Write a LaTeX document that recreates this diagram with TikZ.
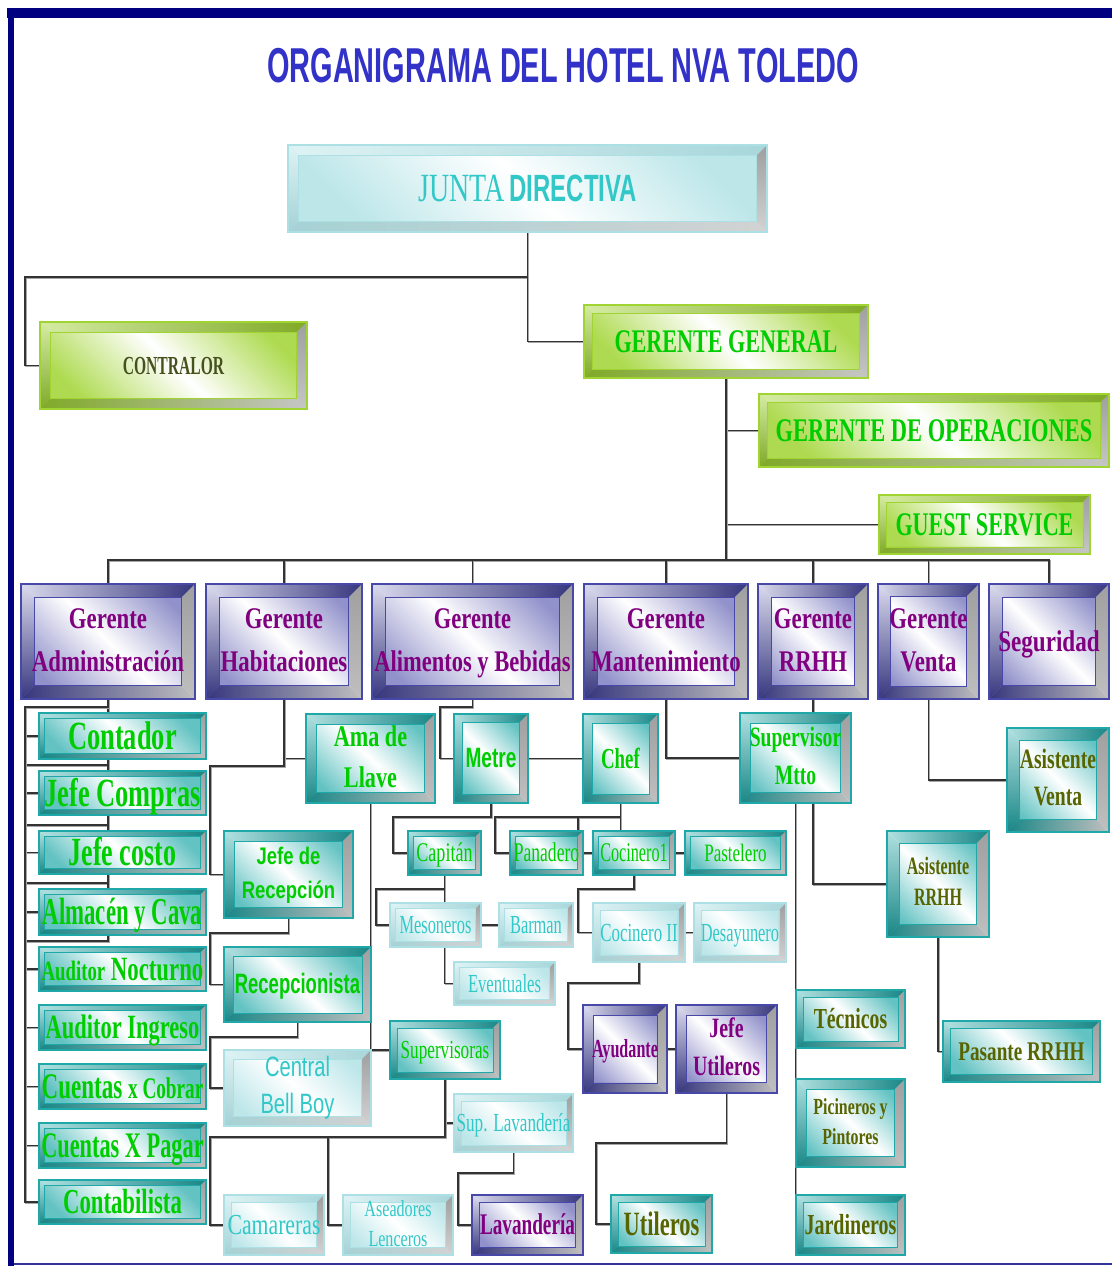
\documentclass[tikz,border=0pt]{standalone}
\usepackage{fontspec}
\setmainfont{Liberation Serif}
\newfontfamily\arialf{Liberation Sans}
\usepackage{graphicx}
\usetikzlibrary{calc}

\definecolor{Navy}{RGB}{0,0,128}
\definecolor{TitleB}{RGB}{50,50,200}
\definecolor{TealE}{RGB}{32,168,168}
\definecolor{PurpE}{RGB}{72,72,168}
\definecolor{LimeE}{RGB}{160,212,50}
\definecolor{PaleE}{RGB}{172,224,228}
\definecolor{GreenT}{RGB}{0,205,0}
\definecolor{OliveT}{RGB}{88,100,0}
\definecolor{ContrT}{RGB}{70,82,30}
\definecolor{PurpT}{RGB}{128,0,128}
\definecolor{CyanT}{RGB}{50,200,200}

% condensed single line, centred on its capitals
\newcommand\sqo[2]{\scalebox{#1}[1]{\raisebox{0pt}[0.66em][0pt]{#2}}}
% condensed centred block of lines
\newcommand\sqm[2]{\scalebox{#1}[1]{\begin{tabular}{@{}c@{}}#2\end{tabular}}}
\newcommand\fz[2]{\fontsize{#1}{#2}\selectfont}

% bevelled frame: light edge, dark top-right, dark bottom-left, grey edge, frame colour
\newcommand\bevelpic[5]{%
  \path let \p1=(path picture bounding box.south west),
            \p2=(path picture bounding box.north east),
            \n1={0.12*min(\x2-\x1,\y2-\y1)} in
    (\x1,\y1) coordinate (bvA) (\x2,\y1) coordinate (bvB)
    (\x2,\y2) coordinate (bvC) (\x1,\y2) coordinate (bvD)
    (\x1+\n1,\y1+\n1) coordinate (bva) (\x2-\n1,\y1+\n1) coordinate (bvb)
    (\x2-\n1,\y2-\n1) coordinate (bvc) (\x1+\n1,\y2-\n1) coordinate (bvd);
  \shade[left color=#1, right color=#2] (bvD) -- (bvC) -- (bvc) -- (bvd) -- cycle;
  \shade[top color=#1, bottom color=#3] (bvA) -- (bvD) -- (bvd) -- (bva) -- cycle;
  \shade[left color=#3, right color=#4] (bvA) -- (bvB) -- (bvb) -- (bva) -- cycle;
  \shade[top color=gray!75, bottom color=#4] (bvB) -- (bvC) -- (bvc) -- (bvb) -- cycle;
  \draw[#5, line width=0.8pt] (bva) rectangle (bvc);
}

\tikzset{
  boxbase/.style={rectangle, inner sep=0pt, outer sep=0pt, line width=1.2pt},
  wh/.style 2 args={minimum width=#1, minimum height=#2},
  face/.style={top color=#1, bottom color=#1, middle color=white, shading angle=-45},
  tealbox/.style={boxbase, draw=TealE, face=TealE!70, text=GreenT,
    path picture={\bevelpic{TealE!35}{TealE!80!black}{TealE!80!black}{gray!50}{TealE}}},
  olivebox/.style={tealbox, text=OliveT},
  purpbox/.style={boxbase, draw=PurpE, face=PurpE!60, text=PurpT,
    path picture={\bevelpic{PurpE!20}{PurpE!75!black}{PurpE!75!black}{gray!50}{PurpE}}},
  limebox/.style={boxbase, draw=LimeE, face=LimeE!85, text=GreenT,
    path picture={\bevelpic{LimeE!45}{LimeE!80!black}{LimeE!80!black}{gray!45}{LimeE}}},
  palebox/.style={boxbase, draw=PaleE, face=PaleE!80, text=CyanT,
    path picture={\bevelpic{PaleE!40}{PaleE!90!gray}{PaleE!85!gray}{gray!35}{PaleE}}},
  mgr/.style={purpbox, font=\bfseries\fz{30}{43}},
  conn/.style={draw=black!80, line width=1.3pt,
    preaction={draw=black!35, line width=1.6pt, transform canvas={shift={(0.9pt,-1.1pt)}}}},
}

\pgfdeclarelayer{paper}
\pgfdeclarelayer{wires}
\pgfsetlayers{paper,wires,main}

\begin{document}
\begin{tikzpicture}[x=1pt,y=-1pt]
\useasboundingbox (0,0) rectangle (1112,1266);
\begin{pgfonlayer}{paper}
  \fill[white] (0,0) rectangle (1112,1266);
\end{pgfonlayer}

% page frame
\fill[Navy] (7,7.5) rectangle (1112,17.5);
\fill[Navy] (7.5,7.5) rectangle (14,1266);
\draw[Navy!80, line width=2pt] (14,1263.5) -- (1112,1263.5);

% title
\node[anchor=base, text=TitleB, font=\arialf\bfseries\fz{49}{55}] (title) at (563,82)
  {\scalebox{.59}[1]{ORGANIGRAMA DEL HOTEL NVA TOLEDO}};

% board and general management
\node[palebox, wh={479}{87}, font=\fz{40}{40}] (junta) at (527.5,188.5)
  {\sqo{.70}{JUNTA}\hspace{5pt}{\arialf\bfseries\fz{38}{38}\sqo{.63}{DIRECTIVA}}};
\node[limebox, wh={267}{87}, text=ContrT, font=\bfseries\fz{26}{26}] (contr) at (173.5,365.5) {\sqo{.6}{CONTRALOR}};
\node[limebox, wh={284}{73}, font=\bfseries\fz{33}{33}] (gg) at (726,341.5) {\sqo{.67}{GERENTE GENERAL}};
\node[limebox, wh={350}{73}, font=\bfseries\fz{33}{33}] (gop) at (934,430.5) {\sqo{.68}{GERENTE DE OPERACIONES}};
\node[limebox, wh={211}{59}, font=\bfseries\fz{33}{33}] (guest) at (984.5,524.5) {\sqo{.67}{GUEST SERVICE}};

% department managers
\node[mgr, wh={174}{115}] (adm) at (108,641.5) {\sqm{.76}{Gerente\\Administración}};
\node[mgr, wh={156}{115}] (hab) at (284,641.5) {\sqm{.76}{Gerente\\Habitaciones}};
\node[mgr, wh={201}{115}] (ayb) at (472.5,641.5) {\sqm{.75}{Gerente\\Alimentos y Bebidas}};
\node[mgr, wh={164}{115}] (mant) at (666,641.5) {\sqm{.76}{Gerente\\Mantenimiento}};
\node[mgr, wh={110}{115}] (rrhh) at (813,641.5) {\sqm{.76}{Gerente\\RRHH}};
\node[mgr, wh={101}{115}] (venta) at (928.5,641.5) {\sqm{.76}{Gerente\\Venta}};
\node[mgr, wh={120}{115}] (seg) at (1049,641.5) {\sqo{.77}{Seguridad}};

% administration
\node[tealbox, wh={167}{46}, font=\bfseries\fz{40}{40}] (cont) at (122.5,736) {\sqo{.66}{Contador}};
\node[tealbox, wh={167}{44}, font=\bfseries\fz{40}{40}] (jc) at (122.5,793) {\sqo{.66}{Jefe Compras}};
\node[tealbox, wh={167}{43}, font=\bfseries\fz{40}{40}] (jcost) at (122.5,852.5) {\sqo{.65}{Jefe costo}};
\node[tealbox, wh={167}{46}, font=\bfseries\fz{38}{38}] (alm) at (122.5,912) {\sqo{.6}{Almacén y Cava}};
\node[tealbox, wh={167}{44}, font=\bfseries\fz{34}{34}] (audn) at (122.5,969) {\sqo{.67}{{\fz{28}{28}Auditor} Nocturno}};
\node[tealbox, wh={167}{45}, font=\bfseries\fz{34}{34}] (audi) at (122.5,1027.5) {\sqo{.66}{Auditor Ingreso}};
\node[tealbox, wh={167}{45}, font=\bfseries\fz{36}{36}] (cxc) at (122.5,1086.5) {\sqo{.64}{Cuentas {\fz{30}{30}x Cobrar}}};
\node[tealbox, wh={167}{45}, font=\bfseries\fz{36}{36}] (cxp) at (122.5,1145.5) {\sqo{.62}{Cuentas X Pagar}};
\node[tealbox, wh={167}{44}, font=\bfseries\fz{35}{35}] (contab) at (122.5,1202) {\sqo{.65}{Contabilista}};

% rooms
\node[tealbox, wh={129}{89}, font=\bfseries\fz{30}{41}] (ama) at (370.5,758.5) {\sqm{.74}{Ama de\\Llave}};
\node[tealbox, wh={129}{87}, font=\arialf\bfseries\fz{24}{34}] (jr) at (288.5,874.5) {\sqm{.77}{Jefe de\\Recepción}};
\node[tealbox, wh={147}{75}, font=\arialf\bfseries\fz{28}{28}] (rec) at (297.5,984.5) {\sqo{.66}{Recepcionista}};
\node[palebox, wh={147}{76}, font=\arialf\fz{28}{37}] (cbb) at (297.5,1088) {\sqm{.72}{Central\\Bell Boy}};
\node[tealbox, wh={110}{58}, font=\fz{26}{26}] (sup) at (445,1050) {\sqo{.66}{Supervisoras}};
\node[palebox, wh={119}{58}, font=\fz{26}{26}] (suplav) at (513.5,1123) {\sqo{.66}{Sup. Lavandería}};
\node[palebox, wh={100}{60}, font=\fz{29}{29}] (cam) at (274,1225) {\sqo{.75}{Camareras}};
\node[palebox, wh={110}{60}, font=\fz{23}{30}] (ase) at (398,1225) {\sqm{.7}{Aseadores\\Lenceros}};
\node[purpbox, wh={111}{60}, font=\bfseries\fz{30}{30}] (lav) at (527.5,1225) {\sqo{.64}{Lavandería}};

% food and beverage
\node[tealbox, wh={74}{89}, font=\arialf\bfseries\fz{28}{28}] (metre) at (491,758.5) {\sqo{.68}{Metre}};
\node[tealbox, wh={75}{89}, font=\bfseries\fz{29}{29}] (chef) at (620.5,758.5) {\sqo{.65}{Chef}};
\node[tealbox, wh={73}{44}, font=\fz{27}{27}] (cap) at (444.5,853) {\sqo{.67}{Capitán}};
\node[tealbox, wh={73}{44}, font=\fz{27}{27}] (pan) at (546.5,853) {\sqo{.65}{Panadero}};
\node[tealbox, wh={82}{44}, font=\fz{27}{27}] (coc1) at (634,853) {\sqo{.6}{Cocinero1}};
\node[tealbox, wh={101}{44}, font=\fz{25}{25}] (past) at (735.5,853) {\sqo{.68}{Pastelero}};
\node[palebox, wh={91}{44}, font=\fz{26}{26}] (mes) at (435.5,925) {\sqo{.63}{Mesoneros}};
\node[palebox, wh={74}{44}, font=\fz{26}{26}] (bar) at (536,925) {\sqo{.63}{Barman}};
\node[palebox, wh={101}{43}, font=\fz{26}{26}] (event) at (504.5,983.5) {\sqo{.64}{Eventuales}};
\node[palebox, wh={92}{59}, font=\fz{26}{26}] (coc2) at (639,932.5) {\sqo{.65}{Cocinero II}};
\node[palebox, wh={92}{59}, font=\fz{26}{26}] (desay) at (740,932.5) {\sqo{.63}{Desayunero}};
\node[purpbox, wh={84}{88}, font=\bfseries\fz{26}{26}] (ayud) at (625,1049) {\sqo{.62}{Ayudante}};
\node[purpbox, wh={101}{88}, font=\bfseries\fz{28}{38}] (jutil) at (726.5,1049) {\sqm{.71}{Jefe\\Utileros}};
\node[olivebox, wh={101}{58}, font=\bfseries\fz{34}{34}] (util) at (661.5,1224) {\sqo{.66}{Utileros}};

% maintenance, human resources, sales
\node[tealbox, wh={111}{90}, font=\bfseries\fz{28}{38}] (supm) at (795.5,758) {\sqm{.70}{Supervisor\\Mtto}};
\node[olivebox, wh={109}{58}, font=\bfseries\fz{29}{29}] (tec) at (850.5,1019) {\sqo{.68}{Técnicos}};
\node[olivebox, wh={109}{88}, font=\bfseries\fz{23}{30}] (pic) at (850.5,1123) {\sqm{.69}{Picineros y\\Pintores}};
\node[olivebox, wh={109}{60}, font=\bfseries\fz{29}{29}] (jard) at (850.5,1225) {\sqo{.69}{Jardineros}};
\node[olivebox, wh={102}{106}, font=\bfseries\fz{25}{31}] (asrr) at (938,884) {\sqm{.64}{Asistente\\RRHH}};
\node[olivebox, wh={157}{61}, font=\bfseries\fz{27}{27}] (pas) at (1021.5,1051.5) {\sqo{.71}{Pasante RRHH}};
\node[olivebox, wh={102}{104}, font=\bfseries\fz{28}{37}] (asv) at (1058,780) {\sqm{.70}{Asistente\\Venta}};

\begin{pgfonlayer}{wires}
  % board
  \draw[conn] (junta.south) -- ++(0,45) -| ([xshift=-15pt]contr.west) -- (contr.west);
  \draw[conn] (junta.south) |- (gg.west);
  \draw[conn] (gg.south) |- (gop.west);
  \draw[conn] (gg.south) |- (guest.west);
  \draw[conn] (gg.south) -- ++(0,182);
  \draw[conn] (adm.north) -- ++(0,-24) -| (seg.north);
  \foreach \m in {hab,ayb,mant,rrhh,venta} \draw[conn] (\m.north) -- ++(0,-24);
  % administration
  \foreach \c in {cont,jc,jcost,alm,audn}
    \draw[conn] (adm.south) |- ([xshift=-14pt,yshift=6pt]\c.north west) |- (\c.west);
  \foreach \c in {audi,cxc,cxp,contab}
    \draw[conn] (adm.south) |- ([xshift=-14pt,yshift=6pt]cont.north west) |- (\c.west);
  % rooms
  \draw[conn] (hab.south) |- (ama.west);
  \draw[conn] (hab.south) -- ++(0,67) -| ([xshift=-14pt]jr.west) -- (jr.west);
  \draw[conn] (jr.south) -- ++(0,15) -| ([xshift=-14pt]rec.west) -- (rec.west);
  \draw[conn] (rec.south) -- ++(0,15) -| ([xshift=-14pt]cbb.west) -- (cbb.west);
  \draw[conn] (ama.south) |- (sup.west);
  \draw[conn] (sup.south) |- (suplav.west);
  \draw[conn] (sup.south) -- ++(0,58) -| ([xshift=-14pt]cam.west) -- (cam.west);
  \draw[conn] (sup.south) -- ++(0,58) -| ([xshift=-15pt]ase.west) -- (ase.west);
  \draw[conn] (suplav.south) -- ++(0,21) -| ([xshift=-14pt]lav.west) -- (lav.west);
  % food and beverage
  \draw[conn] (ayb.south) -- ++(0,8) -| ([xshift=-14pt]metre.west) -- (metre.west);
  \draw[conn] (metre.east) -- (chef.west);
  \draw[conn] (metre.south) -- ++(0,14) -| ([xshift=-15pt]cap.west) -- (cap.west);
  \draw[conn] (chef.south) -- ++(0,14) -| ([xshift=-15pt]pan.west) -- (pan.west);
  \draw[conn] (chef.south) -- ++(0,14) -| ([xshift=-5pt]pan.north east);
  \draw[conn] (chef.south) -- (chef.south |- coc1.north);
  \draw[conn] (pan.east) -- (coc1.west);
  \draw[conn] (coc1.east) -- (past.west);
  \draw[conn] (cap.south) -- ++(0,14) -| ([xshift=-14pt]mes.west) -- (mes.west);
  \draw[conn] (cap.south) |- (event.west);
  \draw[conn] (mes.east) -- (bar.west);
  \draw[conn] (coc1.south) -- ++(0,14) -| ([xshift=-15pt]coc2.west) -- (coc2.west);
  \draw[conn] (coc2.east) -- (desay.west);
  \draw[conn] (coc2.south) -- ++(0,21) -| ([xshift=-15pt]ayud.west) -- (ayud.west);
  \draw[conn] (ayud.east) -- (jutil.west);
  \draw[conn] (jutil.south) -- ++(0,50) -| ([xshift=-15pt]util.west) -- (util.west);
  % maintenance
  \draw[conn] (mant.south) |- (supm.west);
  \foreach \c in {tec,pic,jard} \draw[conn] (supm.south) |- (\c.west);
  % human resources and sales
  \draw[conn] (rrhh.south) |- (asrr.west);
  \draw[conn] (asrr.south) |- (pas.west);
  \draw[conn] (venta.south) |- (asv.west);
\end{pgfonlayer}
\end{tikzpicture}
\end{document}
